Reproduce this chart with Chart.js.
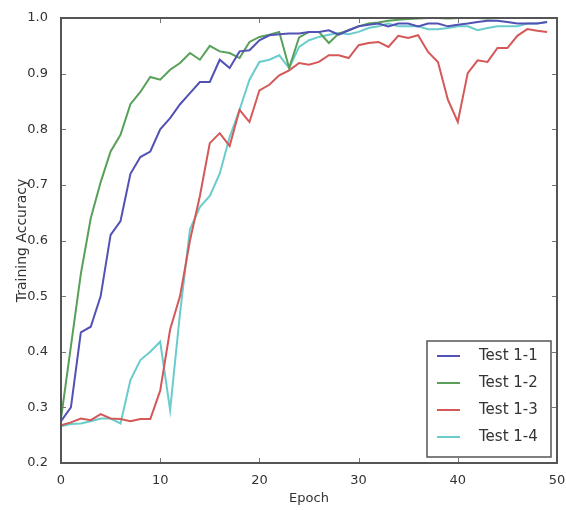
<!DOCTYPE html>
<html lang="en">
<head>
    <meta charset="UTF-8">
    <title>Training Accuracy</title>
    <script src="https://cdn.jsdelivr.net/npm/chart.js"></script>
    <style>
        body {
            margin: 0;
            background: #fff;
        }
        .wrap {
            width: 566px;
            height: 510px;
            position: relative;
        }
    </style>
</head>
<body>
    <div class="wrap"><canvas id="accChart"></canvas></div>

    <script>
        const epochs = [0, 1, 2, 3, 4, 5, 6, 7, 8, 9, 10, 11, 12, 13, 14, 15, 16, 17, 18, 19,
            20, 21, 22, 23, 24, 25, 26, 27, 28, 29, 30, 31, 32, 33, 34, 35, 36, 37, 38, 39,
            40, 41, 42, 43, 44, 45, 46, 47, 48, 49];

        const test11 = [0.275, 0.30, 0.435, 0.445, 0.50, 0.61, 0.635, 0.72, 0.75, 0.76,
            0.80, 0.82, 0.845, 0.865, 0.885, 0.885, 0.925, 0.91, 0.94, 0.942,
            0.96, 0.969, 0.971, 0.972, 0.972, 0.975, 0.975, 0.978, 0.97, 0.978,
            0.985, 0.988, 0.99, 0.985, 0.99, 0.99, 0.985, 0.99, 0.99, 0.985,
            0.988, 0.99, 0.993, 0.995, 0.995, 0.993, 0.99, 0.99, 0.99, 0.993];

        const test12 = [0.28, 0.41, 0.54, 0.64, 0.705, 0.76, 0.79, 0.845, 0.867, 0.894,
            0.889, 0.907, 0.919, 0.937, 0.925, 0.95, 0.94, 0.937, 0.928, 0.957,
            0.966, 0.97, 0.975, 0.91, 0.965, 0.975, 0.975, 0.955, 0.972, 0.978,
            0.985, 0.99, 0.992, 0.995, 0.997, 0.998, 0.999, 1.0, 1.0, 0.999,
            1.0, 1.0, 1.0, 0.999, 1.0, 1.0, 1.0, 1.0, 1.0, 1.0];

        const test13 = [0.268, 0.273, 0.28, 0.277, 0.288, 0.28, 0.279, 0.275, 0.279, 0.279,
            0.33, 0.44, 0.50, 0.60, 0.68, 0.775, 0.793, 0.77, 0.835, 0.813,
            0.87, 0.88, 0.897, 0.906, 0.919, 0.916, 0.921, 0.933, 0.933, 0.928,
            0.951, 0.955, 0.957, 0.948, 0.968, 0.964, 0.969, 0.939, 0.921, 0.853,
            0.813, 0.901, 0.924, 0.921, 0.946, 0.946, 0.968, 0.98, 0.977, 0.975];

        const test14 = [0.266, 0.27, 0.271, 0.275, 0.28, 0.28, 0.271, 0.349, 0.385, 0.40,
            0.418, 0.295, 0.47, 0.62, 0.66, 0.68, 0.72, 0.786, 0.835, 0.889,
            0.921, 0.925, 0.933, 0.91, 0.948, 0.96, 0.966, 0.97, 0.973, 0.971,
            0.975, 0.982, 0.985, 0.99, 0.985, 0.985, 0.985, 0.98, 0.98, 0.982,
            0.985, 0.985, 0.978, 0.982, 0.985, 0.985, 0.985, 0.99, 0.99, 0.993];

        const seriesNames = ["Test 1-1", "Test 1-2", "Test 1-3", "Test 1-4"];
        const seriesColors = ["#5252b4", "#58a058", "#d45858", "#6acccc"];
        const xTicks = [0, 10, 20, 30, 40, 50];
        const yTicks = [0.2, 0.3, 0.4, 0.5, 0.6, 0.7, 0.8, 0.9, 1.0];

        const allSeries = [test11, test12, test13, test14];
        const textColor = "#333";
        const frameColor = "#555";

        // matplotlib style box around the axes, ticks pointing inward on all four sides
        const framePlugin = {
            id: "frame",
            afterDatasetsDraw(chart) {
                const { ctx, chartArea: a, scales } = chart;
                ctx.save();
                ctx.strokeStyle = "#777";
                ctx.lineWidth = 1;
                const len = 5;
                xTicks.forEach(v => {
                    const x = Math.round(scales.x.getPixelForValue(v)) + 0.5;
                    ctx.beginPath();
                    ctx.moveTo(x, a.bottom); ctx.lineTo(x, a.bottom - len);
                    ctx.moveTo(x, a.top); ctx.lineTo(x, a.top + len);
                    ctx.stroke();
                });
                yTicks.forEach(v => {
                    const y = Math.round(scales.y.getPixelForValue(v)) + 0.5;
                    ctx.beginPath();
                    ctx.moveTo(a.left, y); ctx.lineTo(a.left + len, y);
                    ctx.moveTo(a.right, y); ctx.lineTo(a.right - len, y);
                    ctx.stroke();
                });
                ctx.strokeStyle = frameColor;
                ctx.lineWidth = 2;
                ctx.strokeRect(a.left, a.top, a.right - a.left, a.bottom - a.top);
                ctx.restore();
            }
        };

        // legend box drawn inside the lower right corner of the plot
        const legendBox = {
            id: "legendBox",
            afterDraw(chart) {
                const { ctx, chartArea: a } = chart;
                const w = 124, h = 116;
                const x0 = a.right - 6 - w;
                const y0 = a.bottom - 6 - h;
                ctx.save();
                ctx.fillStyle = "#fff";
                ctx.fillRect(x0, y0, w, h);
                ctx.strokeStyle = frameColor;
                ctx.lineWidth = 1.5;
                ctx.strokeRect(x0, y0, w, h);
                ctx.font = "15px 'DejaVu Sans'";
                ctx.textBaseline = "middle";
                chart.data.datasets.forEach((ds, i) => {
                    const y = y0 + 15 + i * 27;
                    ctx.strokeStyle = ds.borderColor;
                    ctx.lineWidth = 2;
                    ctx.beginPath();
                    ctx.moveTo(x0 + 10, y);
                    ctx.lineTo(x0 + 33, y);
                    ctx.stroke();
                    ctx.fillStyle = textColor;
                    ctx.fillText(ds.label, x0 + 52, y);
                });
                ctx.restore();
            }
        };

        const ctx = document.getElementById("accChart").getContext("2d");
        new Chart(ctx, {
            type: "line",
            data: {
                datasets: allSeries.map((vals, i) => ({
                    label: seriesNames[i],
                    data: epochs.map((e, j) => ({ x: e, y: vals[j] })),
                    borderColor: seriesColors[i],
                    borderWidth: 2,
                    pointRadius: 0,
                    tension: 0,
                    fill: false
                }))
            },
            options: {
                responsive: true,
                maintainAspectRatio: false,
                animation: false,
                layout: { padding: { top: 18, right: 9, left: 0, bottom: 0 } },
                plugins: {
                    legend: { display: false },
                    tooltip: { enabled: false }
                },
                scales: {
                    x: {
                        type: "linear",
                        min: 0,
                        max: 50,
                        afterFit: s => {
                            s.height = 47;
                            s.paddingLeft = 0;
                            s.paddingRight = 0;
                        },
                        afterBuildTicks: s => { s.ticks = xTicks.map(v => ({ value: v })); },
                        grid: { display: false },
                        border: { display: false },
                        ticks: {
                            color: textColor,
                            font: { family: "DejaVu Sans", size: 13 },
                            padding: 2,
                            maxRotation: 0
                        },
                        title: {
                            display: true,
                            text: "Epoch",
                            color: textColor,
                            font: { family: "DejaVu Sans", size: 13 },
                            padding: { top: 0, bottom: 4 }
                        }
                    },
                    y: {
                        min: 0.2,
                        max: 1.0,
                        afterFit: s => { s.width = 61; },
                        afterBuildTicks: s => { s.ticks = yTicks.map(v => ({ value: v })); },
                        grid: { display: false },
                        border: { display: false },
                        ticks: {
                            color: textColor,
                            font: { family: "DejaVu Sans", size: 13 },
                            padding: 5,
                            callback: v => v.toFixed(1)
                        },
                        title: {
                            display: true,
                            text: "Training Accuracy",
                            color: textColor,
                            font: { family: "DejaVu Sans", size: 14 },
                            padding: { top: 14, bottom: 0 }
                        }
                    }
                }
            },
            plugins: [framePlugin, legendBox]
        });
    </script>
</body>
</html>
